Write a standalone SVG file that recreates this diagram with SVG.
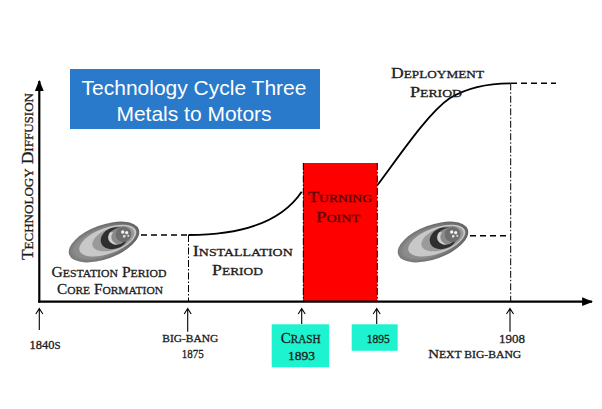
<svg xmlns="http://www.w3.org/2000/svg" width="602" height="409" viewBox="0 0 602 409">
<style>
.sc{font-family:"Liberation Serif","DejaVu Serif",serif;fill:#1c1c1c;stroke:#1c1c1c;stroke-width:0.3;text-anchor:middle;font-size:15px}
.s{font-size:11.3px}
.d{font-size:12px}
.tp{fill:#5a0505;stroke:#5a0505}
.title{font-family:"Liberation Sans",Arial,sans-serif;font-size:21px;fill:#fff;text-anchor:middle}
.dd{stroke:#000;stroke-width:1;fill:none;stroke-dasharray:7,2,1.5,2}
.dash{stroke:#000;stroke-width:1.6;fill:none;stroke-dasharray:6,4}
.curve{stroke:#000;stroke-width:1.8;fill:none}
.axis{stroke:#000;stroke-width:2.2;fill:none}
.up{stroke:#000;stroke-width:1.1;fill:none}
.cyan{fill:#1ef3cf}
</style>
<defs>
<marker id="ah" viewBox="0 0 10 10" refX="9" refY="5" markerWidth="5" markerHeight="5" orient="auto" markerUnits="strokeWidth">
<path d="M0,1 L10,5 L0,9 Z" fill="#000"/>
</marker>
<radialGradient id="lg" cx="0.45" cy="0.5" r="0.6">
<stop offset="0.6" stop-color="#8c8c8c"/>
<stop offset="1" stop-color="#555"/>
</radialGradient>
<g id="logo">
<ellipse cx="0" cy="0" rx="37" ry="17" fill="url(#lg)"/>
<ellipse cx="4" cy="0" rx="30" ry="13" fill="#c8c8c8"/>
<ellipse cx="10" cy="0" rx="22" ry="11" fill="#9a9a9a"/>
<ellipse cx="11" cy="0" rx="14" ry="10.5" fill="#2f2f2f"/>
<ellipse cx="15" cy="-0.5" rx="10" ry="8" fill="#8a8a8a"/>
<path d="M9,-7 C3,-3 4,5 12,7 C7,3 7,-3 12,-6 Z" fill="#d0d0d0"/>
<ellipse cx="21" cy="-0.5" rx="8" ry="7.5" fill="#6e6e6e"/>
<circle cx="21" cy="-3" r="1.7" fill="#f2f2f2"/>
<circle cx="24.5" cy="-1" r="1.6" fill="#f2f2f2"/>
<circle cx="21" cy="1.5" r="1.4" fill="#e0e0e0"/>
<circle cx="25" cy="2.5" r="1.1" fill="#d8d8d8"/>
</g>
</defs>
<rect width="602" height="409" fill="#fff"/>

<g id="title">
<rect x="70" y="69" width="250" height="60" fill="#2a7acb"/>
<text class="title" x="194" y="95">Technology Cycle Three</text>
<text class="title" x="194" y="120.5">Metals to Motors</text>
</g>

<g id="turning-point">
<rect x="303" y="163" width="74.3" height="138.5" fill="#ff0000"/>
<text class="sc tp" x="340" y="202" textLength="64" lengthAdjust="spacingAndGlyphs">T<tspan class="s">URNING</tspan></text>
<text class="sc tp" x="338" y="221.7" textLength="44" lengthAdjust="spacingAndGlyphs">P<tspan class="s">OINT</tspan></text>
</g>

<g id="connectors">
<line class="dd" x1="188.5" y1="235" x2="188.5" y2="301"/>
<line class="dd" x1="303.3" y1="163" x2="303.3" y2="301"/>
<line class="dd" x1="377.3" y1="163" x2="377.3" y2="301"/>
<line class="dd" x1="510.7" y1="83.3" x2="510.7" y2="301"/>
<line class="dash" x1="141" y1="235" x2="188" y2="235"/>
<line class="dash" x1="470" y1="235.7" x2="510" y2="235.7"/>
<line class="dash" x1="511" y1="83.3" x2="556" y2="83.3"/>
<path class="curve" d="M188.5,235 C232,235 278,227 301.7,191.7"/>
<path class="curve" d="M377.5,185 C400,155 428,113 450,98 C470,86 490,83.3 510.7,83.3"/>
<line class="axis" x1="39.3" y1="302.7" x2="39.3" y2="81" marker-end="url(#ah)"/>
<line class="axis" x1="38.2" y1="301.7" x2="592" y2="301.7" marker-end="url(#ah)"/>
<g class="up">
<path d="M39.3,330 V308.5 M35.8,314 L39.3,308.5 L42.8,314"/>
<path d="M187.7,331.7 V308.5 M184.2,314 L187.7,308.5 L191.2,314"/>
<path d="M301.7,324 V308.5 M298.2,314 L301.7,308.5 L305.2,314"/>
<path d="M376.7,324 V308.5 M373.2,314 L376.7,308.5 L380.2,314"/>
<path d="M510,331.7 V308.5 M506.5,314 L510,308.5 L513.5,314"/>
</g>
</g>

<g id="gestation">
<use href="#logo" transform="translate(104,242) rotate(-20)"/>
<text class="sc" x="109" y="276.7" textLength="115" lengthAdjust="spacingAndGlyphs">G<tspan class="s">ESTATION</tspan> P<tspan class="s">ERIOD</tspan></text>
<text class="sc" x="110" y="294" textLength="106" lengthAdjust="spacingAndGlyphs">C<tspan class="s">ORE</tspan> F<tspan class="s">ORMATION</tspan></text>
</g>

<g id="installation">
<text class="sc" x="242.7" y="256" textLength="100" lengthAdjust="spacingAndGlyphs">I<tspan class="s">NSTALLATION</tspan></text>
<text class="sc" x="237.5" y="275" textLength="51" lengthAdjust="spacingAndGlyphs">P<tspan class="s">ERIOD</tspan></text>
</g>

<g id="deployment">
<use href="#logo" transform="translate(433,242) rotate(-20)"/>
<text class="sc" x="437.5" y="78" textLength="93" lengthAdjust="spacingAndGlyphs">D<tspan class="s">EPLOYMENT</tspan></text>
<text class="sc" x="436" y="97" textLength="52" lengthAdjust="spacingAndGlyphs">P<tspan class="s">ERIOD</tspan></text>
</g>

<g id="y-label">
<text class="sc" style="font-size:16.5px" transform="translate(32.5,176.5) rotate(-90)" x="0" y="0" textLength="167" lengthAdjust="spacingAndGlyphs">T<tspan style="font-size:12.5px">ECHNOLOGY</tspan> D<tspan style="font-size:12.5px">IFFUSION</tspan></text>
</g>

<g id="time-labels">
<text class="sc d" x="45" y="349.3" textLength="31" lengthAdjust="spacingAndGlyphs">1840<tspan style="font-size:10.5px">S</tspan></text>
<text class="sc" style="font-size:11px" x="190.3" y="341.7" textLength="56" lengthAdjust="spacingAndGlyphs">BIG-BANG</text>
<text class="sc d" x="192.8" y="358.3" textLength="22" lengthAdjust="spacingAndGlyphs">1875</text>
<rect class="cyan" x="271.7" y="324.3" width="57.5" height="43"/>
<text class="sc" style="font-size:15.5px" x="300.7" y="342.7" textLength="40" lengthAdjust="spacingAndGlyphs">C<tspan style="font-size:11.5px">RASH</tspan></text>
<text class="sc d" x="301.5" y="360" textLength="27" lengthAdjust="spacingAndGlyphs">1893</text>
<rect class="cyan" x="351.7" y="324.3" width="46" height="26.5"/>
<text class="sc d" x="378.3" y="343.3" textLength="23" lengthAdjust="spacingAndGlyphs">1895</text>
<text class="sc d" x="512" y="343.3" textLength="26" lengthAdjust="spacingAndGlyphs">1908</text>
<text class="sc" style="font-size:13.5px" x="474.7" y="358.3" textLength="93" lengthAdjust="spacingAndGlyphs">N<tspan style="font-size:10.5px">EXT BIG-BANG</tspan></text>
</g>
</svg>
